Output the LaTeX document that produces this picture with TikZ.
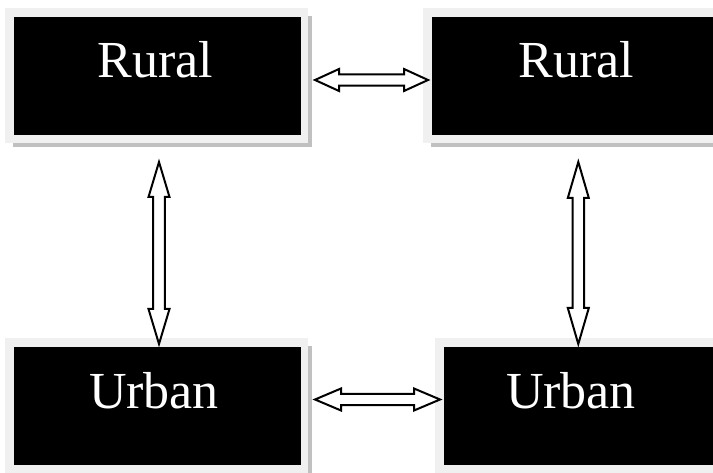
\documentclass[tikz,border=0pt]{standalone}
\usepackage{fontspec}
\setmainfont{Liberation Serif}
\definecolor{framegray}{HTML}{F0F0F0}
\definecolor{shadowgray}{HTML}{C0C0C0}
\tikzset{
  blackbox/.style={fill=black, draw=none, inner sep=0pt, anchor=north west},
  boxlabel/.style={text=white, font=\fontsize{39}{44}\selectfont, anchor=base, inner sep=0pt},
  blockarrow/.style={draw=black, fill=white, line width=1.5pt, line join=miter},
}
\newcommand\mybox[6]{% name, x1, y1, x2, y2, label-text-unused
  \fill[shadowgray] (#2-5,#3-5) ++(4,4) rectangle (#4+11,#5+12);
  \fill[framegray] (#2-9,#3-9) rectangle (#4+7,#5+8);
  \node[blackbox, minimum width={(#4-#2)*0.75pt}, minimum height={(#5-#3)*0.75pt}] (#1) at (#2,#3) {};
}
\newcommand\hdblarrow[4]{% x1, x2, y, head length
  \draw[blockarrow] (#1,#3) -- (#1+#4,#3-11) -- (#1+#4,#3-5.7) -- (#2-#4,#3-5.7) -- (#2-#4,#3-11) -- (#2,#3)
    -- (#2-#4,#3+11) -- (#2-#4,#3+5.7) -- (#1+#4,#3+5.7) -- (#1+#4,#3+11) -- cycle;
}
\newcommand\vdblarrow[4]{% y1, y2, x, head length
  \draw[blockarrow] (#3,#1) -- (#3-10.5,#1+#4) -- (#3-5.8,#1+#4) -- (#3-5.8,#2-#4) -- (#3-10.5,#2-#4) -- (#3,#2)
    -- (#3+10.5,#2-#4) -- (#3+5.8,#2-#4) -- (#3+5.8,#1+#4) -- (#3+10.5,#1+#4) -- cycle;
}
\begin{document}
\begin{tikzpicture}[x=0.75pt, y=-0.75pt]
\useasboundingbox (0,0) rectangle (713,473);
\begin{scope}
\clip (0,0) rectangle (713,473);
\mybox{r1}{14}{17}{301}{135}{}
\mybox{r2}{432}{17}{721}{135}{}
\mybox{u1}{14}{347}{301}{465}{}
\mybox{u2}{444}{347}{733}{465}{}
\end{scope}
\node[boxlabel] (r1t) at (155.5,78) {Rural};
\node[boxlabel] (r2t) at (576.5,78) {Rural};
\node[boxlabel] (u1t) at (154,408) {Urban};
\node[boxlabel] (u2t) at (571,408) {Urban};
\hdblarrow{315}{428}{80}{24}
\hdblarrow{315}{440}{399.5}{26}
\vdblarrow{162}{344}{159}{35}
\vdblarrow{162}{344}{578.3}{36}
\end{tikzpicture}
\end{document}
